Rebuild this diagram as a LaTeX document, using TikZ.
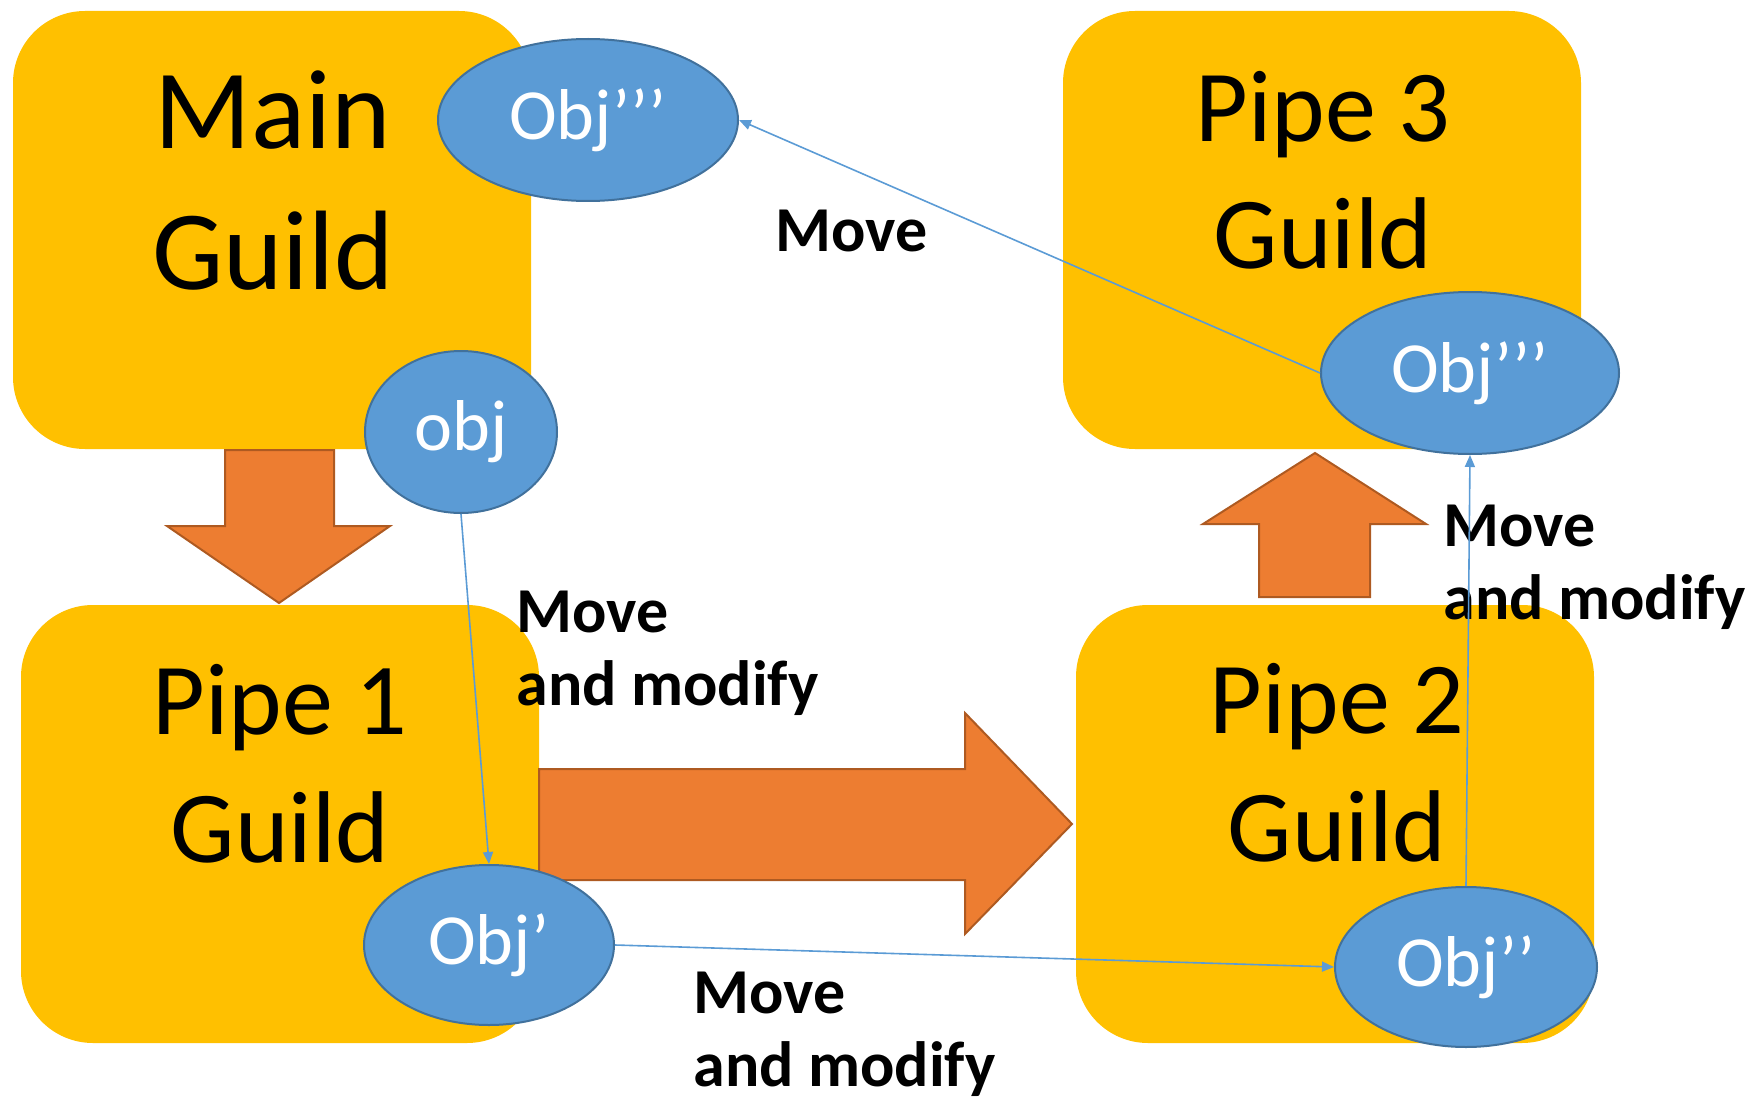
\documentclass[tikz,border=0pt]{standalone}
\usepackage{fontspec}
\setmainfont{Carlito}
\usetikzlibrary{shapes.geometric, positioning, arrows.meta}
\definecolor{guildYellow}{HTML}{FFC000}
\definecolor{blockOrange}{HTML}{ED7D31}
\definecolor{blockBorder}{HTML}{AE5A21}
\definecolor{objBlue}{HTML}{5B9BD5}
\definecolor{objBorder}{HTML}{41719C}
\newcommand{\mainFont}{\fontsize{56.5}{70.5}\selectfont}
\newcommand{\pipeFont}{\fontsize{51}{64}\selectfont}
\newcommand{\objFont}{\fontsize{36}{40}\selectfont}
\newcommand{\moveFont}{\fontsize{32}{36.5}\selectfont\bfseries}
\tikzstyle{guild}=[fill=guildYellow, rounded corners=36pt, minimum width=259pt, minimum height=219pt, inner sep=0pt]
\tikzstyle{guildText}=[align=center, anchor=base, inner sep=0pt]
\tikzstyle{obj}=[ellipse, fill=objBlue, draw=objBorder, line width=1pt, inner sep=0pt, text=white, font=\objFont]
\tikzstyle{block}=[fill=blockOrange, draw=blockBorder, line width=1pt]
\tikzstyle{moveArrow}=[-{Triangle[length=6pt, width=5pt]}, draw=objBlue, line width=0.8pt]
\tikzstyle{moveLabel}=[align=left, anchor=base west, inner sep=0pt, font=\moveFont]

\begin{document}
\begin{tikzpicture}[x=0.5pt, y=-0.5pt]
    \useasboundingbox (0,0) rectangle (1747,1097);
    % guilds
    \node[guild] (mainGuild) at (272,230) {};
    \node[guild] (pipeA) at (280,824) {};
    \node[guild] (pipeB) at (1335,824) {};
    \node[guild] (pipeC) at (1322,230) {};
    \node[guildText, font=\mainFont] (mainText) at (273,289) {Main\\Guild};
    \node[guildText, font=\pipeFont] (pipeAText) at (280,862) {Pipe 1\\Guild};
    \node[guildText, font=\pipeFont] (pipeBText) at (1337,861) {Pipe 2\\Guild};
    \node[guildText, font=\pipeFont] (pipeCText) at (1323,269) {Pipe 3\\Guild};
    % block arrows between guilds
    \draw[block] (225,450) -- (334,450) -- (334,526) -- (390,526) -- (279,603)
        -- (167,526) -- (225,526) -- cycle;
    \draw[block] (539,769) -- (965,769) -- (965,713) -- (1072,824) -- (965,934)
        -- (965,880) -- (539,880) -- cycle;
    \draw[block] (1259,597) -- (1259,524) -- (1203,524) -- (1315,453) -- (1426,524)
        -- (1370,524) -- (1370,597) -- cycle;
    % labels
    \node[moveLabel] (moveTop) at (775,251) {Move};
    \node[moveLabel] (moveA) at (516,705) {Move\\and modify};
    \node[moveLabel] (moveB) at (693,1086) {Move\\and modify};
    \node[moveLabel] (moveC) at (1443,619) {Move\\and modify};
    % objects
    \node[obj, minimum width=150pt, minimum height=81pt] (objBack) at (588,120) {Obj’’’};
    \node[obj, minimum width=96pt, minimum height=81pt] (objMain) at (461,432) {obj};
    \node[obj, minimum width=125pt, minimum height=80pt] (objA) at (489,945) {Obj’};
    \node[obj, minimum width=131pt, minimum height=80pt] (objB) at (1466,967) {Obj’’};
    \node[obj, minimum width=149pt, minimum height=81pt] (objC) at (1470,373) {Obj’’’};
    % moves
    \draw[moveArrow] (objMain.south) -- (objA.north);
    \draw[moveArrow] (objA.east) -- (objB.west);
    \draw[moveArrow] (objB.north) -- (objC.south);
    \draw[moveArrow] (objC.west) -- (objBack.east);
\end{tikzpicture}
\end{document}
